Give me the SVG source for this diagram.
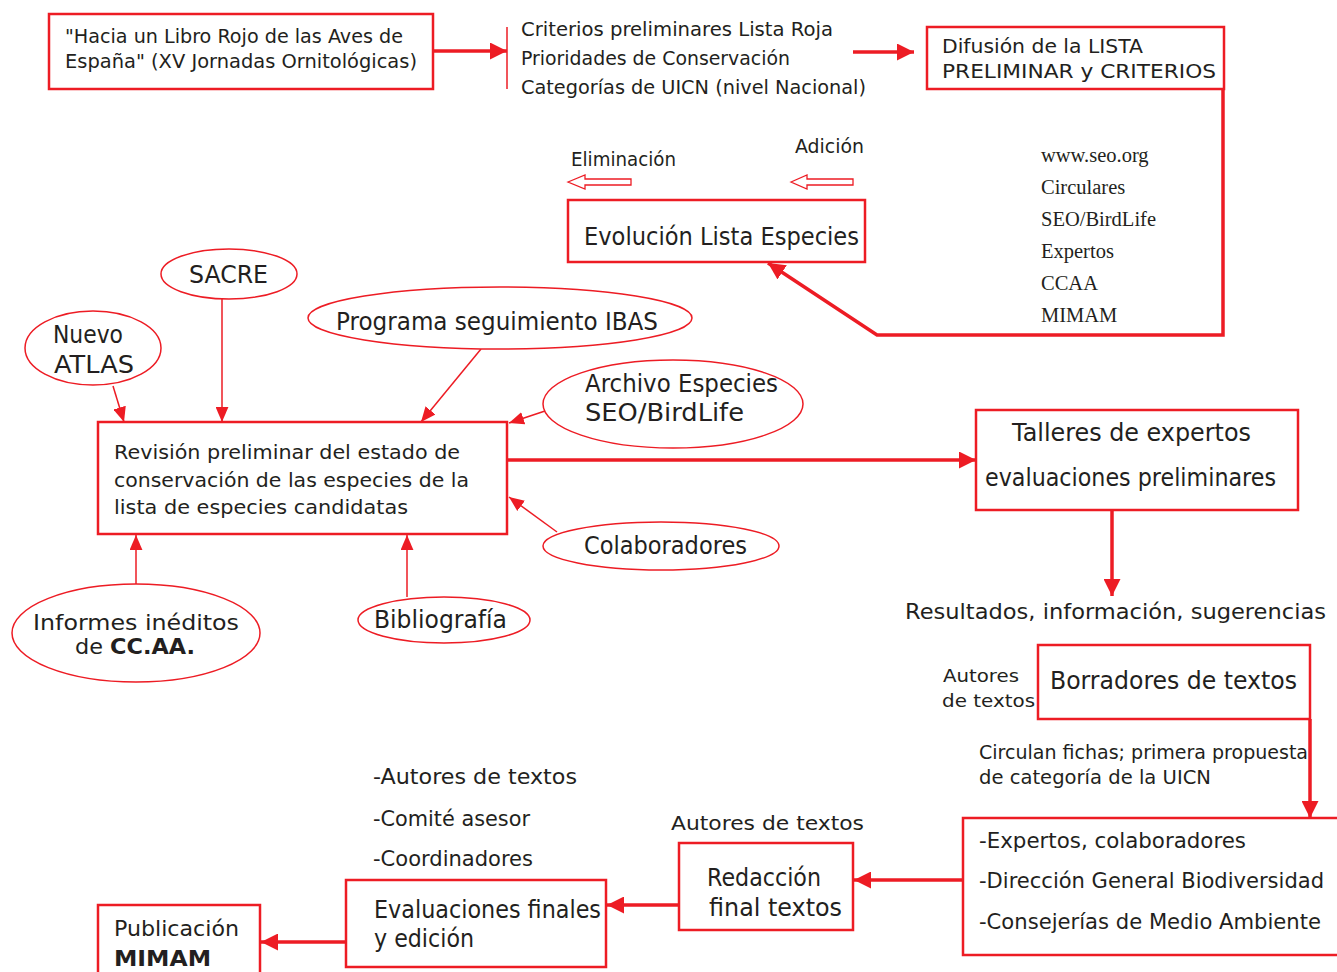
<svg xmlns="http://www.w3.org/2000/svg" width="1337" height="972" viewBox="0 0 1337 972">
<defs>
<style>
.box{fill:#fff;stroke:#ed1c24;stroke-width:2.5}
.ell{fill:#fff;stroke:#ed1c24;stroke-width:1.5}
.thick{fill:none;stroke:#ed1c24;stroke-width:3.5}
.thin{fill:none;stroke:#ed1c24;stroke-width:1.5}
.hollow{fill:#fff;stroke:#ed1c24;stroke-width:1.3}
text{font-family:"DejaVu Sans","Noto Sans",sans-serif;fill:#231f20}
.t20{font-size:20px}
.t21{font-size:21px}
.t22{font-size:22px}
.t24{font-size:24px}
.t18{font-size:18px}
.ser{font-family:"Liberation Serif","Times New Roman",serif;font-size:20.5px}
.b{font-weight:bold}
</style>
<marker id="ah" viewBox="0 0 16 16" refX="16" refY="8" markerWidth="17" markerHeight="17" markerUnits="userSpaceOnUse" orient="auto"><path d="M0,0L16,8L0,16z" fill="#ed1c24"/></marker>
<marker id="ahs" viewBox="0 0 14 12" refX="14" refY="6" markerWidth="15" markerHeight="13" markerUnits="userSpaceOnUse" orient="auto"><path d="M0,0L14,6L0,12z" fill="#ed1c24"/></marker>
</defs>

<g id="connectors">
<line class="thick" x1="433" y1="51" x2="507" y2="51" marker-end="url(#ah)"/>
<line class="thin" x1="507" y1="27" x2="507" y2="89"/>
<line class="thick" x1="853" y1="52" x2="914" y2="52" marker-end="url(#ah)"/>
<polyline class="thick" points="1223,89 1223,335 877,335 768,263" marker-end="url(#ah)"/>
<polygon class="hollow" points="568,182 585,175 585,179 631,179 631,185 585,185 585,189"/>
<polygon class="hollow" points="791,182 807,175 807,179 853,179 853,185 807,185 807,189"/>
<line class="thin" x1="113" y1="386" x2="124" y2="422" marker-end="url(#ahs)"/>
<line class="thin" x1="222" y1="299" x2="222" y2="422" marker-end="url(#ahs)"/>
<line class="thin" x1="481" y1="349" x2="421" y2="422" marker-end="url(#ahs)"/>
<line class="thin" x1="545" y1="411" x2="509" y2="423" marker-end="url(#ahs)"/>
<line class="thin" x1="557" y1="532" x2="509" y2="497" marker-end="url(#ahs)"/>
<line class="thin" x1="136" y1="584" x2="136" y2="535" marker-end="url(#ahs)"/>
<line class="thin" x1="407" y1="597" x2="407" y2="535" marker-end="url(#ahs)"/>
<line class="thick" x1="507" y1="460" x2="976" y2="460" marker-end="url(#ah)"/>
<line class="thick" x1="1112" y1="510" x2="1112" y2="596" marker-end="url(#ah)"/>
<line class="thick" x1="1310" y1="719" x2="1310" y2="818" marker-end="url(#ah)"/>
<line class="thick" x1="963" y1="880" x2="854" y2="880" marker-end="url(#ah)"/>
<line class="thick" x1="679" y1="905" x2="607" y2="905" marker-end="url(#ah)"/>
<line class="thick" x1="346" y1="942" x2="261" y2="942" marker-end="url(#ah)"/>
</g>

<g id="hacia">
<rect class="box" x="49" y="14" width="384" height="75"/>
<text class="t20" x="65" y="43" textLength="338" lengthAdjust="spacingAndGlyphs">"Hacia un Libro Rojo de las Aves de</text>
<text class="t20" x="65" y="68" textLength="352" lengthAdjust="spacingAndGlyphs">España" (XV Jornadas Ornitológicas)</text>
</g>

<g id="criterios">
<text class="t20" x="521" y="36" textLength="312" lengthAdjust="spacingAndGlyphs">Criterios preliminares Lista Roja</text>
<text class="t20" x="521" y="65" textLength="269" lengthAdjust="spacingAndGlyphs">Prioridades de Conservación</text>
<text class="t20" x="521" y="94" textLength="345" lengthAdjust="spacingAndGlyphs">Categorías de UICN (nivel Nacional)</text>
</g>

<g id="difusion">
<rect class="box" x="927" y="27" width="297" height="62"/>
<text class="t20" x="942" y="53" textLength="201" lengthAdjust="spacingAndGlyphs">Difusión de la LISTA</text>
<text class="t20" x="942" y="78" textLength="274" lengthAdjust="spacingAndGlyphs">PRELIMINAR y CRITERIOS</text>
</g>

<g id="medios">
<text class="ser" x="1041" y="162">www.seo.org</text>
<text class="ser" x="1041" y="194">Circulares</text>
<text class="ser" x="1041" y="226">SEO/BirdLife</text>
<text class="ser" x="1041" y="258">Expertos</text>
<text class="ser" x="1041" y="290">CCAA</text>
<text class="ser" x="1041" y="322">MIMAM</text>
</g>

<g id="evolucion">
<rect class="box" x="568" y="200" width="297" height="62"/>
<text class="t24" x="584" y="245" textLength="275" lengthAdjust="spacingAndGlyphs">Evolución Lista Especies</text>
<text class="t20" x="571" y="166" textLength="105" lengthAdjust="spacingAndGlyphs">Eliminación</text>
<text class="t20" x="795" y="153" textLength="69" lengthAdjust="spacingAndGlyphs">Adición</text>
</g>

<g id="sacre">
<ellipse class="ell" cx="229" cy="274" rx="68" ry="25"/>
<text class="t24" x="189" y="283" textLength="79" lengthAdjust="spacingAndGlyphs">SACRE</text>
</g>

<g id="atlas">
<ellipse class="ell" cx="93" cy="348" rx="68" ry="37"/>
<text class="t24" x="53" y="343" textLength="70" lengthAdjust="spacingAndGlyphs">Nuevo</text>
<text class="t24" x="54" y="373" textLength="80" lengthAdjust="spacingAndGlyphs">ATLAS</text>
</g>

<g id="ibas">
<ellipse class="ell" cx="500" cy="318" rx="192" ry="31"/>
<text class="t24" x="336" y="330" textLength="322" lengthAdjust="spacingAndGlyphs">Programa seguimiento IBAS</text>
</g>

<g id="archivo">
<ellipse class="ell" cx="673" cy="404" rx="130" ry="44"/>
<text class="t24" x="585" y="392" textLength="193" lengthAdjust="spacingAndGlyphs">Archivo Especies</text>
<text class="t24" x="585" y="421" textLength="159" lengthAdjust="spacingAndGlyphs">SEO/BirdLife</text>
</g>

<g id="revision">
<rect class="box" x="98" y="422" width="409" height="112"/>
<text class="t20" x="114" y="459" textLength="346" lengthAdjust="spacingAndGlyphs">Revisión preliminar del estado de</text>
<text class="t20" x="114" y="487" textLength="355" lengthAdjust="spacingAndGlyphs">conservación de las especies de la</text>
<text class="t20" x="114" y="514" textLength="294" lengthAdjust="spacingAndGlyphs">lista de especies candidatas</text>
</g>

<g id="colaboradores">
<ellipse class="ell" cx="661" cy="546" rx="118" ry="24"/>
<text class="t24" x="584" y="554" textLength="163" lengthAdjust="spacingAndGlyphs">Colaboradores</text>
</g>

<g id="informes">
<ellipse class="ell" cx="136" cy="633" rx="124" ry="49"/>
<text class="t21" x="33" y="630" textLength="206" lengthAdjust="spacingAndGlyphs">Informes inéditos</text>
<text class="t21" x="75" y="654" textLength="120" lengthAdjust="spacingAndGlyphs">de <tspan class="b">CC.AA.</tspan></text>
</g>

<g id="bibliografia">
<ellipse class="ell" cx="444" cy="620" rx="86" ry="23"/>
<text class="t24" x="374" y="628" textLength="133" lengthAdjust="spacingAndGlyphs">Bibliografía</text>
</g>

<g id="talleres">
<rect class="box" x="976" y="410" width="322" height="100"/>
<text class="t24" x="1012" y="441" textLength="239" lengthAdjust="spacingAndGlyphs">Talleres de expertos</text>
<text class="t24" x="985" y="486" textLength="291" lengthAdjust="spacingAndGlyphs">evaluaciones preliminares</text>
</g>

<g id="resultados">
<text class="t22" x="905" y="619" textLength="421" lengthAdjust="spacingAndGlyphs">Resultados, información, sugerencias</text>
</g>

<g id="borradores">
<rect class="box" x="1038" y="645" width="272" height="74"/>
<text class="t24" x="1050" y="689" textLength="247" lengthAdjust="spacingAndGlyphs">Borradores de textos</text>
<text class="t18" x="943" y="682" textLength="76" lengthAdjust="spacingAndGlyphs">Autores</text>
<text class="t18" x="942" y="707" textLength="93" lengthAdjust="spacingAndGlyphs">de textos</text>
</g>

<g id="circulan">
<text class="t20" x="979" y="759" textLength="329" lengthAdjust="spacingAndGlyphs">Circulan fichas; primera propuesta</text>
<text class="t20" x="979" y="784" textLength="232" lengthAdjust="spacingAndGlyphs">de categoría de la UICN</text>
</g>

<g id="expertos">
<rect class="box" x="963" y="818" width="380" height="137"/>
<text class="t22" x="979" y="848" textLength="267" lengthAdjust="spacingAndGlyphs">-Expertos, colaboradores</text>
<text class="t21" x="979" y="888" textLength="345" lengthAdjust="spacingAndGlyphs">-Dirección General Biodiversidad</text>
<text class="t22" x="979" y="929" textLength="342" lengthAdjust="spacingAndGlyphs">-Consejerías de Medio Ambiente</text>
</g>

<g id="redaccion">
<text class="t20" x="671" y="830" textLength="193" lengthAdjust="spacingAndGlyphs">Autores de textos</text>
<rect class="box" x="679" y="843" width="174" height="87"/>
<text class="t24" x="707" y="886" textLength="114" lengthAdjust="spacingAndGlyphs">Redacción</text>
<text class="t24" x="709" y="916" textLength="133" lengthAdjust="spacingAndGlyphs">final textos</text>
</g>

<g id="evaluaciones">
<text class="t22" x="373" y="784" textLength="204" lengthAdjust="spacingAndGlyphs">-Autores de textos</text>
<text class="t22" x="373" y="826" textLength="157" lengthAdjust="spacingAndGlyphs">-Comité asesor</text>
<text class="t22" x="373" y="866" textLength="160" lengthAdjust="spacingAndGlyphs">-Coordinadores</text>
<rect class="box" x="346" y="880" width="260" height="87"/>
<text class="t24" x="374" y="918" textLength="227" lengthAdjust="spacingAndGlyphs">Evaluaciones finales</text>
<text class="t24" x="374" y="947" textLength="100" lengthAdjust="spacingAndGlyphs">y edición</text>
</g>

<g id="publicacion">
<rect class="box" x="98" y="905" width="162" height="80"/>
<text class="t22" x="114" y="936" textLength="125" lengthAdjust="spacingAndGlyphs">Publicación</text>
<text class="t22 b" x="114" y="966" textLength="97" lengthAdjust="spacingAndGlyphs">MIMAM</text>
</g>
</svg>
